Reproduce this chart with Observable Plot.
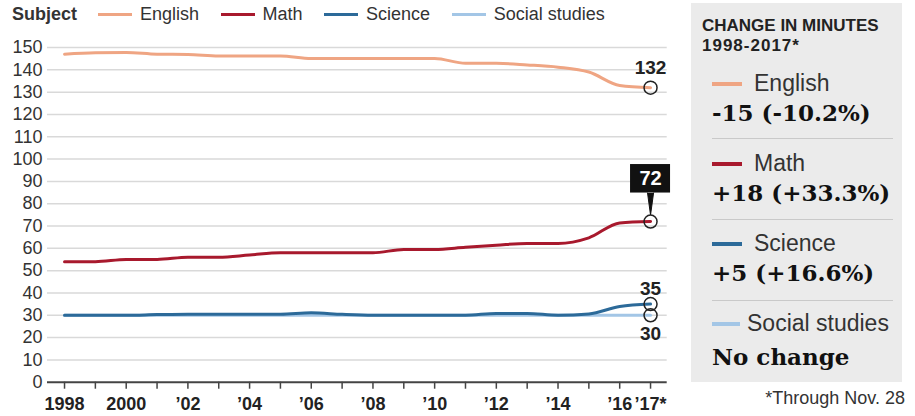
<!DOCTYPE html>
<html>
<head>
<meta charset="utf-8">
<script src="https://cdn.jsdelivr.net/npm/d3@7"></script>
<script src="https://cdn.jsdelivr.net/npm/@observablehq/plot@0.6"></script>
<style>
  html, body { margin: 0; padding: 0; background: #fff; }
  body { width: 915px; height: 416px; position: relative; overflow: hidden;
         font-family: "Liberation Sans", Arial, sans-serif; color: #333; }
  #legend { position: absolute; left: 12px; top: 5px; height: 18px; line-height: 18px;
            display: flex; align-items: center; font-size: 18px; white-space: nowrap; }
  #legend .title { font-weight: bold; color: #333; margin-right: 21px; }
  #legend .item { display: flex; align-items: center; margin-right: 21.5px; }
  #legend .sw { width: 34px; height: 3px; margin-right: 8px; }
  #chart { position: absolute; left: 0; top: 32px; }
  #panel { position: absolute; left: 691px; top: 3px; width: 211px; height: 379px; background: #ebebeb; }
  .abs { position: absolute; line-height: 1; white-space: nowrap; }
  .head { font-weight: bold; font-size: 17px; color: #222; left: 11px; }
  .lab { font-size: 23px; color: #333; }
  .val { font-family: "DejaVu Serif", "Liberation Serif", serif; font-weight: bold; font-size: 23px; color: #111; left: 21px; }
  .sep { position: absolute; left: 21px; width: 181px; height: 1px; background: #c9c9c9; }
  .psw { position: absolute; left: 21px; width: 30px; height: 3.5px; }
  #note { position: absolute; right: 10px; top: 389px; font-size: 18px; line-height: 1; color: #333; }
</style>
</head>
<body>
<div id="legend"></div>
<div id="chart"></div>
<div id="panel"></div>
<div id="note">*Through Nov. 28</div>
<script>
// Minutes per week of instruction, by subject
const years = [1998, 1999, 2000, 2001, 2002, 2003, 2004, 2005, 2006, 2007,
               2008, 2009, 2010, 2011, 2012, 2013, 2014, 2015, 2016, 2017];
const subjects = ["English", "Math", "Science", "Social studies"];
const english = [147, 147.6, 147.8, 147, 146.9, 146.2, 146.2, 146.2, 145.1, 145.1,
                 145.1, 145.1, 145.1, 142.9, 142.9, 142.2, 141.2, 139, 133, 132];
const math = [54, 54, 55, 55, 56, 56, 57, 58, 58, 58,
              58, 59.5, 59.5, 60.5, 61.4, 62.2, 62.2, 64.7, 71.4, 72];
const science = [30, 30, 30, 30.3, 30.5, 30.5, 30.5, 30.5, 31.1, 30.4,
                 30, 30, 30, 30, 30.8, 30.8, 30, 30.6, 33.9, 35];
const socialStudies = [30, 30, 30, 30, 30, 30, 30, 30, 30, 30,
                       30, 30, 30, 30, 30, 30, 30, 30, 30, 30];
const colors = ["#efa583", "#a8192d", "#2c6a99", "#a3c6e6"];
const yTicks = [0, 10, 20, 30, 40, 50, 60, 70, 80, 90, 100, 110, 120, 130, 140, 150];
const xLabelYears = [1998, 2000, 2002, 2004, 2006, 2008, 2010, 2012, 2014, 2016, 2017];
const xLabels = ["1998", "2000", "’02", "’04", "’06", "’08", "’10", "’12", "’14", "’16", "’17*"];
const changeLabels = ["-15 (-10.2%)", "+18 (+33.3%)", "+5 (+16.6%)", "No change"];

const series = [english, math, science, socialStudies];
const rows = subjects.flatMap((subject, i) =>
  years.map((year, j) => ({subject, year, minutes: series[i][j]})));
const ends = subjects.map((subject, i) =>
  ({subject, year: years[years.length - 1], minutes: series[i][series[i].length - 1]}));
const end = Object.fromEntries(ends.map(d => [d.subject, d]));
const labelOf = new Map(xLabelYears.map((y, i) => [y, xLabels[i]]));

// Top legend
const legend = document.getElementById("legend");
legend.innerHTML = `<span class="title">Subject</span>` + subjects.map((s, i) =>
  `<span class="item"><span class="sw" style="background:${colors[i]}"></span>${s}</span>`).join("");

// Lines drawn back to front so Science sits on top of Social studies
const drawOrder = [...subjects].reverse();
const chart = Plot.plot({
  width: 690,
  height: 384,
  marginTop: 15,
  marginBottom: 34.3,
  marginLeft: 47,
  marginRight: 23.3,
  style: {fontFamily: "'Liberation Sans', Arial, sans-serif", color: "#333", background: "transparent", overflow: "visible"},
  x: {domain: [1997.448, 2017.54]},
  y: {domain: [0, 150]},
  color: {domain: subjects, range: colors},
  marks: [
    Plot.ruleY(yTicks.filter(d => d > 0), {stroke: "#d9d9d9", strokeWidth: 1.5}),
    Plot.axisY({ticks: yTicks, tickSize: 0, tickPadding: 5, fontSize: 18, fill: "#333", label: null}),
    Plot.axisX({ticks: years, tickSize: 7, tickPadding: 8, fontSize: 18, fontWeight: "bold",
                fill: "#222", stroke: "#444", strokeWidth: 1.5, label: null,
                tickFormat: d => labelOf.get(d) ?? ""}),
    Plot.ruleY([0], {stroke: "#444", strokeWidth: 2}),
    ...drawOrder.map(s => Plot.line(rows.filter(d => d.subject === s),
      {x: "year", y: "minutes", stroke: "subject", strokeWidth: 3, curve: "monotone-x"})),
    // Callout for the latest Math value
    Plot.rect([end.Math], {x1: "year", x2: "year", y1: "minutes", y2: "minutes",
      insetLeft: -20, insetRight: -20, insetTop: -57, insetBottom: 28.5, fill: "#111"}),
    Plot.vector([end.Math], {x: "year", y: "minutes", length: 22, rotate: 180, anchor: "end",
      shape: "spike", r: 3, fill: "#111", stroke: "#111", strokeWidth: 1, dy: -6.5}),
    Plot.text([end.Math], {x: "year", y: "minutes", text: d => `${d.minutes}`, dy: -43,
      fill: "white", fontSize: 20, fontWeight: "bold"}),
    // Latest values for the other subjects
    Plot.text([end.English], {x: "year", y: "minutes", text: d => `${d.minutes}`, lineAnchor: "bottom",
      dy: -13.5, fill: "#222", fontSize: 19, fontWeight: "bold"}),
    Plot.text([end.Science], {x: "year", y: "minutes", text: d => `${d.minutes}`, lineAnchor: "bottom",
      dy: -9.5, fill: "#222", fontSize: 19, fontWeight: "bold"}),
    Plot.text([end["Social studies"]], {x: "year", y: "minutes", text: d => `${d.minutes}`, lineAnchor: "top",
      dy: 11.6, fill: "#222", fontSize: 19, fontWeight: "bold"}),
    Plot.dot(ends, {x: "year", y: "minutes", r: 6.5, stroke: "#222", strokeWidth: 1.5, fill: "none"})
  ]
});
document.getElementById("chart").append(chart);

// Side panel: change in minutes per subject
const panel = document.getElementById("panel");
const baseline = (b, size) => b - 0.8465 * size;
let html = `<div class="abs head" style="top:${baseline(28.7, 17)}px">CHANGE IN MINUTES</div>` +
           `<div class="abs head" style="top:${baseline(48.7, 17)}px;letter-spacing:1px">1998-2017*</div>`;
subjects.forEach((s, i) => {
  const off = 80 * i;
  const labLeft = s === "Social studies" ? 56 : 63;
  const swW = s === "Social studies" ? 28 : 30;
  html += `<div class="psw" style="top:${81 + off - 1.75}px;width:${swW}px;background:${colors[i]}"></div>`;
  html += `<div class="abs lab" style="left:${labLeft}px;top:${baseline(88.7 + off, 23)}px">${s}</div>`;
  html += `<div class="abs val" style="top:${baseline(117 + off + (i === 3 ? 4 : 0), 23)}px">${changeLabels[i]}</div>`;
  if (i < subjects.length - 1) html += `<div class="sep" style="top:${135 + 81 * i}px"></div>`;
});
panel.innerHTML = html;
</script>
</body>
</html>
